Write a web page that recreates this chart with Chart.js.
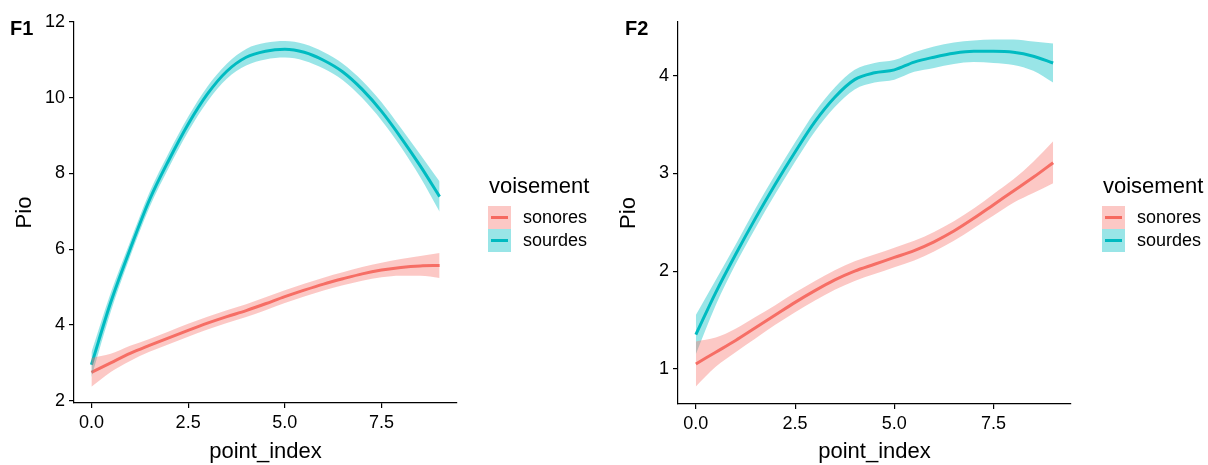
<!DOCTYPE html>
<html>
<head>
<meta charset="utf-8">
<script src="https://cdn.jsdelivr.net/npm/chart.js@4.4.1/dist/chart.umd.min.js"></script>
<style>
  html, body { margin: 0; padding: 0; background: #fff; }
  body { display: flex; width: 1208px; height: 465px; overflow: hidden; }
  canvas { display: block; }
</style>
</head>
<body>
<canvas id="f1" width="604" height="465"></canvas>
<canvas id="f2" width="604" height="465"></canvas>
<script>
// point_index sampled every 0.5
const pointIndex = [0, 0.5, 1, 1.5, 2, 2.5, 3, 3.5, 4, 4.5, 5, 5.5, 6, 6.5, 7, 7.5, 8, 8.5, 9];
const groups = ['sonores', 'sourdes'];
const xTicks = [0, 2.5, 5, 7.5];
const yTicksF1 = [2, 4, 6, 8, 10, 12];
const yTicksF2 = [1, 2, 3, 4];

// F1
const f1Sonores   = [2.75, 3.00, 3.25, 3.46, 3.66, 3.86, 4.05, 4.22, 4.38, 4.56, 4.75, 4.92, 5.08, 5.22, 5.35, 5.45, 5.52, 5.56, 5.57];
const f1SonoresLo = [2.37, 2.76, 3.05, 3.29, 3.49, 3.69, 3.88, 4.05, 4.21, 4.39, 4.58, 4.75, 4.91, 5.05, 5.17, 5.26, 5.30, 5.30, 5.24];
const f1SonoresHi = [3.13, 3.24, 3.45, 3.63, 3.83, 4.03, 4.22, 4.39, 4.55, 4.73, 4.92, 5.09, 5.25, 5.39, 5.53, 5.64, 5.74, 5.82, 5.90];
const f1Sourdes   = [2.95, 4.60, 6.00, 7.30, 8.35, 9.30, 10.10, 10.70, 11.07, 11.23, 11.28, 11.20, 10.99, 10.68, 10.22, 9.64, 8.95, 8.20, 7.39];
const f1SourdesLo = [2.62, 4.35, 5.80, 7.10, 8.15, 9.10, 9.90, 10.50, 10.85, 11.01, 11.06, 10.98, 10.77, 10.46, 9.99, 9.40, 8.70, 7.90, 6.99];
const f1SourdesHi = [3.28, 4.85, 6.20, 7.50, 8.55, 9.50, 10.30, 10.90, 11.29, 11.45, 11.50, 11.42, 11.21, 10.90, 10.45, 9.88, 9.20, 8.50, 7.79];

// F2
const f2Sonores   = [1.05, 1.17, 1.29, 1.42, 1.55, 1.68, 1.80, 1.91, 2.00, 2.07, 2.14, 2.21, 2.30, 2.41, 2.54, 2.68, 2.82, 2.96, 3.11];
const f2SonoresLo = [0.82, 1.02, 1.17, 1.31, 1.45, 1.58, 1.70, 1.81, 1.90, 1.97, 2.04, 2.11, 2.20, 2.31, 2.44, 2.57, 2.70, 2.80, 2.90];
const f2SonoresHi = [1.28, 1.32, 1.41, 1.53, 1.65, 1.78, 1.90, 2.01, 2.10, 2.17, 2.24, 2.31, 2.40, 2.51, 2.64, 2.79, 2.94, 3.12, 3.33];
const f2Sourdes   = [1.35, 1.78, 2.17, 2.54, 2.89, 3.22, 3.53, 3.78, 3.96, 4.03, 4.06, 4.14, 4.19, 4.23, 4.25, 4.25, 4.24, 4.20, 4.13];
const f2SourdesLo = [1.15, 1.65, 2.07, 2.44, 2.79, 3.12, 3.43, 3.68, 3.86, 3.93, 3.96, 4.04, 4.08, 4.12, 4.14, 4.13, 4.11, 4.05, 3.93];
const f2SourdesHi = [1.55, 1.91, 2.27, 2.64, 2.99, 3.32, 3.63, 3.88, 4.06, 4.13, 4.16, 4.24, 4.30, 4.34, 4.36, 4.37, 4.37, 4.35, 4.33];

const lineColors = ['#F6695F', '#00BAC0'];
const ribbonColors = ['rgba(248,118,109,0.4)', 'rgba(0,191,196,0.4)'];
const FONT = '"Liberation Sans", Arial, Helvetica, sans-serif';

function pts(ys) {
    return pointIndex.map((x, i) => ({ x: x, y: ys[i] }));
}

// panel tag (F1 / F2) + ggplot-like legend
const panelDecor = {
    id: 'panelDecor',
    afterDraw(chart, args, opts) {
        const ctx = chart.ctx;
        const ca = chart.chartArea;
        ctx.save();
        ctx.fillStyle = '#000';
        ctx.font = 'bold 20px ' + FONT;
        ctx.textBaseline = 'alphabetic';
        ctx.textAlign = 'left';
        ctx.fillText(opts.tag, opts.tagX, 35);

        const x0 = ca.right + opts.legendGap;
        ctx.font = '22px ' + FONT;
        ctx.fillText('voisement', x0 + 1, 193);
        groups.forEach((g, i) => {
            const y = 206 + i * 23;
            ctx.fillStyle = ribbonColors[i];
            ctx.fillRect(x0, y, 23, 23);
            ctx.strokeStyle = lineColors[i];
            ctx.lineWidth = 3;
            ctx.beginPath();
            ctx.moveTo(x0 + 3, y + 11.5);
            ctx.lineTo(x0 + 20, y + 11.5);
            ctx.stroke();
            ctx.fillStyle = '#000';
            ctx.font = '18px ' + FONT;
            ctx.textBaseline = 'middle';
            ctx.fillText(g, x0 + 35, y + 12);
        });
        ctx.restore();
    }
};

function makePanel(id, tag, tagX, series, yTicks, yMin, yMax, rightPad, xHeight) {
    const datasets = [];
    // ribbons first (lower bound, then upper bound filled to it)
    series.forEach((s, i) => {
        datasets.push({
            data: pts(s.lo), borderWidth: 0, pointRadius: 0, fill: false,
            cubicInterpolationMode: 'monotone'
        });
        datasets.push({
            data: pts(s.hi), borderWidth: 0, pointRadius: 0, fill: '-1',
            backgroundColor: ribbonColors[i], cubicInterpolationMode: 'monotone'
        });
    });
    series.forEach((s, i) => {
        datasets.push({
            label: groups[i], data: pts(s.mid), borderColor: lineColors[i], borderWidth: 3,
            pointRadius: 0, fill: false, cubicInterpolationMode: 'monotone'
        });
    });

    return new Chart(document.getElementById(id), {
        type: 'line',
        data: { datasets: datasets },
        plugins: [panelDecor],
        options: {
            responsive: false,
            animation: false,
            events: [],
            layout: { padding: { left: 0, right: rightPad, top: 22, bottom: 0 } },
            plugins: {
                legend: { display: false },
                tooltip: { enabled: false },
                panelDecor: { tag: tag, tagX: tagX, legendGap: 31 }
            },
            scales: {
                x: {
                    type: 'linear', min: -0.45, max: 9.45,
                    afterBuildTicks: s => { s.ticks = xTicks.map(v => ({ value: v })); },
                    afterFit: s => { s.height = xHeight; },
                    ticks: {
                        callback: v => v.toFixed(1), color: '#000', padding: 4,
                        font: { family: FONT, size: 18 }, maxRotation: 0, autoSkip: false
                    },
                    grid: { drawOnChartArea: false, drawTicks: true, tickLength: 5, color: '#000', lineWidth: 1.2 },
                    border: { display: true, color: '#000', width: 1.2 },
                    title: {
                        display: true, text: 'point_index', color: '#000',
                        font: { family: FONT, size: 22 }, padding: { top: 0, bottom: 0 }
                    }
                },
                y: {
                    type: 'linear', min: yMin, max: yMax,
                    afterBuildTicks: s => { s.ticks = yTicks.map(v => ({ value: v })); },
                    afterFit: s => { s.width = 74; },
                    ticks: { color: '#000', padding: 4, font: { family: FONT, size: 18 } },
                    grid: { drawOnChartArea: false, drawTicks: true, tickLength: 5, color: '#000', lineWidth: 1.2 },
                    border: { display: true, color: '#000', width: 1.2 },
                    title: {
                        display: true, text: 'Pio', color: '#000',
                        font: { family: FONT, size: 22 }, padding: { top: 12, bottom: 0 }
                    }
                }
            }
        }
    });
}

makePanel('f1', 'F1', 10, [
    { mid: f1Sonores, lo: f1SonoresLo, hi: f1SonoresHi },
    { mid: f1Sourdes, lo: f1SourdesLo, hi: f1SourdesHi }
], yTicksF1, 1.94, 12.0, 147, 62);

makePanel('f2', 'F2', 21, [
    { mid: f2Sonores, lo: f2SonoresLo, hi: f2SonoresHi },
    { mid: f2Sourdes, lo: f2SourdesLo, hi: f2SourdesHi }
], yTicksF2, 0.64, 4.55, 137, 61);
</script>
</body>
</html>
